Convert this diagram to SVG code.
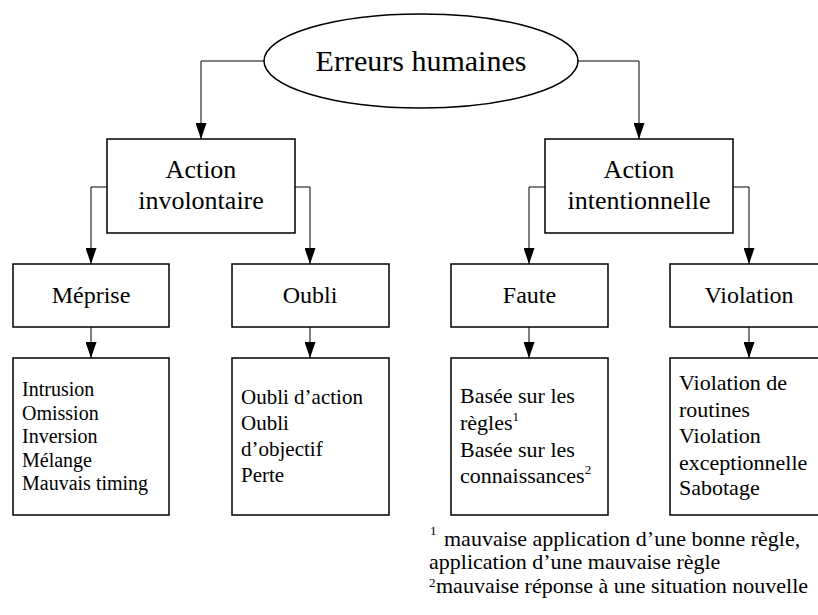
<svg xmlns="http://www.w3.org/2000/svg" width="818" height="615" viewBox="0 0 818 615">
<style>
text{font-family:"Liberation Serif","Times New Roman",serif;fill:#000}
.box{fill:#fff;stroke:#000;stroke-width:1.5}
.conn{fill:none;stroke:#000;stroke-width:1}
.t30{font-size:30px;text-anchor:middle}
.t26{font-size:26px;text-anchor:middle}
.t24{font-size:24px;text-anchor:middle}
.t20{font-size:20px}
.t21{font-size:21px}
.t22{font-size:22px}
.sup{font-size:13px}
</style>
<defs>
<marker id="arr" viewBox="0 0 16 11" refX="16" refY="5.5" markerWidth="16" markerHeight="11" orient="auto" markerUnits="userSpaceOnUse">
<path d="M0,0 L16,5.5 L0,11 z" fill="#000"/>
</marker>
</defs>
<rect width="818" height="615" fill="#fff"/>
<g id="connectors">
<path class="conn" d="M264,61 H201 V139" marker-end="url(#arr)"/>
<path class="conn" d="M578,61 H639 V139" marker-end="url(#arr)"/>
<path class="conn" d="M107,187 H91 V264" marker-end="url(#arr)"/>
<path class="conn" d="M295,187 H310 V264" marker-end="url(#arr)"/>
<path class="conn" d="M545,187 H529 V264" marker-end="url(#arr)"/>
<path class="conn" d="M733,187 H749 V264" marker-end="url(#arr)"/>
<path class="conn" d="M91,327 V358" marker-end="url(#arr)"/>
<path class="conn" d="M310,327 V358" marker-end="url(#arr)"/>
<path class="conn" d="M529,327 V358" marker-end="url(#arr)"/>
<path class="conn" d="M749,327 V358" marker-end="url(#arr)"/>
</g>
<g id="erreurs">
<ellipse class="box" cx="421" cy="61" rx="157" ry="47"/>
<text class="t30" x="421" y="71">Erreurs humaines</text>
</g>
<g id="involontaire">
<rect class="box" x="107" y="139" width="188" height="94"/>
<text class="t26" x="201" y="178">Action</text>
<text class="t26" x="201" y="209">involontaire</text>
</g>
<g id="intentionnelle">
<rect class="box" x="545" y="139" width="188" height="94"/>
<text class="t26" x="639" y="178">Action</text>
<text class="t26" x="639" y="209">intentionnelle</text>
</g>
<g id="meprise">
<rect class="box" x="13" y="264" width="156" height="63"/>
<text class="t24" x="91" y="303">Méprise</text>
</g>
<g id="oubli">
<rect class="box" x="232" y="264" width="157" height="63"/>
<text class="t24" x="310" y="303">Oubli</text>
</g>
<g id="faute">
<rect class="box" x="451" y="264" width="157" height="63"/>
<text class="t24" x="529.5" y="303">Faute</text>
</g>
<g id="violation">
<rect class="box" x="670" y="264" width="160" height="63"/>
<text class="t24" x="749" y="303">Violation</text>
</g>
<g id="meprise-details">
<rect class="box" x="13" y="358" width="156" height="157"/>
<text class="t20" x="22" y="396">Intrusion</text>
<text class="t20" x="22" y="419.5">Omission</text>
<text class="t20" x="22" y="443">Inversion</text>
<text class="t20" x="22" y="467">Mélange</text>
<text class="t20" x="22" y="490">Mauvais timing</text>
</g>
<g id="oubli-details">
<rect class="box" x="232" y="358" width="157" height="157"/>
<text class="t21" x="241" y="404">Oubli d’action</text>
<text class="t21" x="241" y="430">Oubli</text>
<text class="t21" x="241" y="456">d’objectif</text>
<text class="t21" x="241" y="482">Perte</text>
</g>
<g id="faute-details">
<rect class="box" x="451" y="358" width="157" height="157"/>
<text class="t22" x="460" y="403">Basée sur les</text>
<text class="t22" x="460" y="429.5">règles<tspan class="sup" dy="-9">1</tspan></text>
<text class="t22" x="460" y="456.5">Basée sur les</text>
<text class="t22" x="460" y="483">connaissances<tspan class="sup" dy="-9">2</tspan></text>
</g>
<g id="violation-details">
<rect class="box" x="670" y="358" width="160" height="157"/>
<text class="t22" x="679" y="390">Violation de</text>
<text class="t22" x="679" y="416.5">routines</text>
<text class="t22" x="679" y="443">Violation</text>
<text class="t22" x="679" y="470">exceptionnelle</text>
<text class="t22" x="679" y="495">Sabotage</text>
</g>
<g id="footnotes">
<text class="sup" x="430" y="535">1</text>
<text class="t22" x="444" y="546">mauvaise application d’une bonne règle,</text>
<text class="t22" x="429" y="569">application d’une mauvaise règle</text>
<text class="sup" x="429" y="587">2</text>
<text class="t22" x="436" y="593">mauvaise réponse à une situation nouvelle</text>
</g>
</svg>
